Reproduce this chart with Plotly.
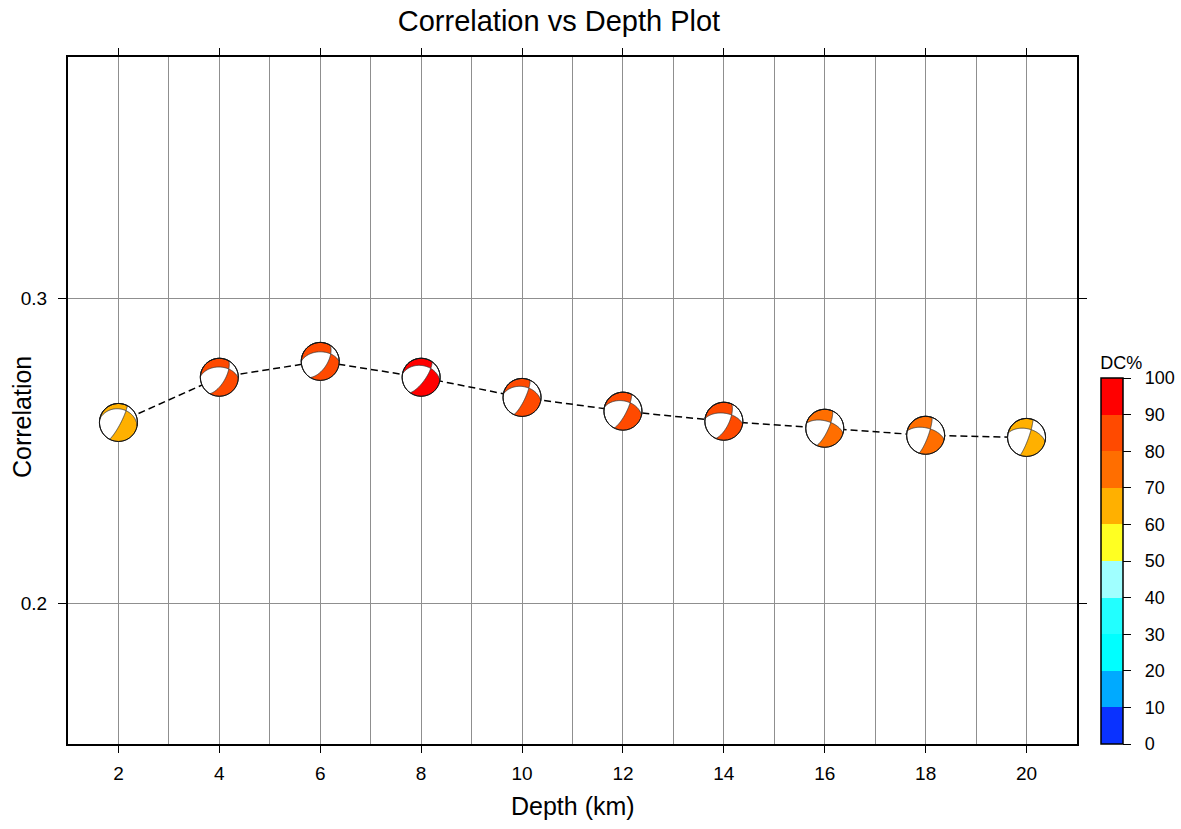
import numpy as np
import plotly.graph_objects as go

# ---------------- data ----------------
depth = [2, 4, 6, 8, 10, 12, 14, 16, 18, 20]
corr = [0.2593, 0.2741, 0.2793, 0.2741, 0.2675, 0.2630, 0.2597, 0.2574, 0.2551, 0.2544]
dc_pct = [65, 85, 82, 93, 86, 85, 84, 78, 76, 68]
strike = [280, 272, 270, 280, 280, 282, 278, 285, 283, 283]
dip = [29, 45, 48, 38, 42, 45, 55, 58, 58, 52]
rake = [-20, -37, -43, -31, -20, -21, -28, -18, -13, -11]

cbar_levels = [0, 10, 20, 30, 40, 50, 60, 70, 80, 90, 100]
cbar_colors = ["#0A32FF", "#00AAFF", "#00FFFF", "#22FFFF", "#A0FFFF",
               "#FFFF22", "#FFB000", "#FF6E00", "#FF4A00", "#FF0000"]

R = 19  # beachball radius in px


def dc_color(v):
    for i in range(len(cbar_colors)):
        if cbar_levels[i] <= v < cbar_levels[i + 1]:
            return cbar_colors[i]
    return cbar_colors[-1]


def beachball_path(stk, dp, rk, radius, n=80):
    phi, d, lam = np.radians([stk, dp, rk])
    nrm = np.array([-np.sin(d) * np.sin(phi), np.sin(d) * np.cos(phi), -np.cos(d)])
    slip = np.array([np.cos(lam) * np.cos(phi) + np.cos(d) * np.sin(lam) * np.sin(phi),
                     np.cos(lam) * np.sin(phi) - np.cos(d) * np.sin(lam) * np.cos(phi),
                     -np.sin(lam) * np.sin(d)])

    def proj(u):
        u = u / np.linalg.norm(u)
        i = np.arccos(np.clip(u[2], -1, 1))
        r = np.sqrt(2) * np.sin(i / 2)
        h = np.hypot(u[0], u[1])
        if h < 1e-12:
            return (0.0, 0.0)
        return (radius * r * u[1] / h, radius * r * u[0] / h)

    def half_region(normal):
        a = np.array([-normal[1], normal[0], 0.0])
        if np.linalg.norm(a) < 1e-9:
            a = np.array([1.0, 0.0, 0.0])
        a = a / np.linalg.norm(a)
        b = np.cross(normal, a)
        b = b / np.linalg.norm(b)
        if b[2] < 0:
            b = -b
        ts = np.linspace(0, np.pi, n)
        pts = [proj(np.cos(t) * a + np.sin(t) * b) for t in ts]
        az_a = np.arctan2(a[1], a[0])
        h1 = np.array([-a[1], a[0], 0.0])
        if np.dot(h1, normal) > 0:
            angs = np.linspace(az_a + np.pi, az_a, n)
        else:
            angs = np.linspace(az_a + np.pi, az_a + 2 * np.pi, n)
        pts += [(radius * np.sin(t), radius * np.cos(t)) for t in angs]
        return pts

    circ = [(radius * np.sin(t), radius * np.cos(t)) for t in np.linspace(0, 2 * np.pi, 2 * n)]

    def sub(pts):
        return "M" + " L".join(f"{x:.2f},{y:.2f}" for x, y in pts) + " Z"

    return sub(circ) + " " + sub(half_region(nrm)) + " " + sub(half_region(slip))


fig = go.Figure()

# dashed connecting line
fig.add_trace(go.Scatter(x=depth, y=corr, mode="lines",
                         line=dict(color="black", width=1.5, dash="7px,4px"),
                         hoverinfo="skip", showlegend=False))

# colorbar carrier
cs = []
for i, c in enumerate(cbar_colors):
    cs.append([cbar_levels[i] / 100, c])
    cs.append([cbar_levels[i + 1] / 100, c])
fig.add_trace(go.Scatter(
    x=depth, y=corr, mode="markers",
    marker=dict(color=dc_pct, colorscale=cs, cmin=0, cmax=100, size=1, opacity=0,
                showscale=True,
                colorbar=dict(
                    thickness=22, thicknessmode="pixels",
                    len=391, lenmode="pixels",
                    x=1.0, xanchor="left", xref="paper", xpad=24,
                    y=0, yanchor="bottom", ypad=0,
                    outlinecolor="black", outlinewidth=1.5,
                    tickmode="array", tickvals=cbar_levels,
                    ticktext=["\u00a0\u00a0" + str(v) for v in cbar_levels],
                    ticks="outside", ticklen=8, tickcolor="black", tickwidth=1,
                    tickfont=dict(size=18, color="black"),
                    title=dict(text="DC%", side="top", font=dict(size=18, color="black")),
                )),
    hoverinfo="skip", showlegend=False))

shapes = []
for xd, yc, c, s, dd, rk in zip(depth, corr, dc_pct, strike, dip, rake):
    common = dict(xref="x", yref="y", xsizemode="pixel", ysizemode="pixel",
                  xanchor=xd, yanchor=yc, layer="above")
    shapes.append(dict(type="circle", x0=-R, x1=R, y0=-R, y1=R,
                       fillcolor="white", line=dict(width=0), **common))
    shapes.append(dict(type="path", path=beachball_path(s, dd, rk, R),
                       fillcolor=dc_color(c), fillrule="evenodd",
                       line=dict(color="#333333", width=0.8), **common))
    shapes.append(dict(type="circle", x0=-R, x1=R, y0=-R, y1=R,
                       fillcolor="rgba(0,0,0,0)", line=dict(color="#111111", width=1), **common))

fig.update_layout(
    width=1181, height=829,
    margin=dict(l=68, r=104, t=57, b=85, autoexpand=False),
    paper_bgcolor="white", plot_bgcolor="white",
    font=dict(family="Liberation Sans, Arial, sans-serif", color="black"),
    title=dict(text="Correlation vs Depth Plot", x=0.4866, xref="paper", xanchor="center",
               y=1 - 21 / 829, yref="container", yanchor="middle",
               font=dict(size=29, color="black")),
    shapes=shapes,
    xaxis=dict(range=[1, 21], tick0=2, dtick=2, ticks="outside", ticklen=7, tickwidth=1,
               tickcolor="black", showline=True, linewidth=2, linecolor="black",
               mirror="ticks", showgrid=True, gridcolor="#8f8f8f", gridwidth=1,
               minor=dict(dtick=1, tick0=1, showgrid=True, gridcolor="#8f8f8f", gridwidth=1),
               zeroline=False, tickfont=dict(size=19), ticklabelstandoff=4),
    yaxis=dict(range=[0.154, 0.379], tick0=0.2, dtick=0.1, tickformat=".1f",
               ticks="outside", ticklen=8, tickwidth=1, tickcolor="black",
               showline=True, linewidth=2, linecolor="black", mirror="ticks",
               showgrid=True, gridcolor="#8f8f8f", gridwidth=1, zeroline=False,
               tickfont=dict(size=19), ticklabelstandoff=7),
    annotations=[
        dict(text="Depth (km)", x=0.5, y=-(806 - 744) / 687, xref="paper", yref="paper",
             xanchor="center", yanchor="middle", showarrow=False, font=dict(size=25)),
        dict(text="Correlation", x=(22 - 68) / 1009, y=(744 - 417) / 687, xref="paper",
             yref="paper", xanchor="center", yanchor="middle", textangle=-90,
             showarrow=False, font=dict(size=25)),
    ],
)

fig.write_html("out.html")
